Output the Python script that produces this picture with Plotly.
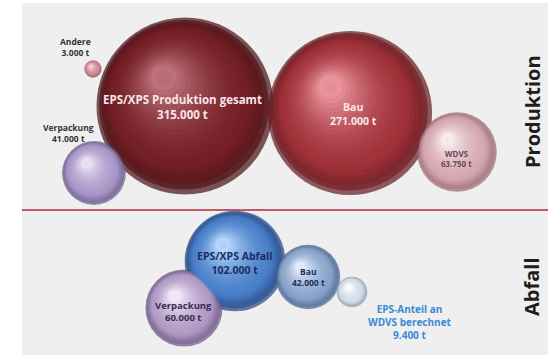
import math
import plotly.graph_objects as go

# ---- data ----
prod_labels = ["EPS/XPS Produktion gesamt", "Bau", "WDVS", "Verpackung", "Andere"]
prod_values = [315000, 271000, 63750, 41000, 3000]
prod_x = [185, 350, 457, 94, 93]
prod_y = [106, 113, 152, 173, 69]
prod_dark = ["#36080c", "#4e0e12", "#845660", "#564878", "#84444f"]
prod_mid = ["#741f25", "#a03139", "#d6a9b2", "#aa99c8", "#cf8a95"]
prod_light = ["#c27681", "#ee9aa2", "#fbf0f2", "#efe6f8", "#f8d8de"]

waste_labels = ["EPS/XPS Abfall", "Bau", "Verpackung", "EPS-Anteil an WDVS berechnet"]
waste_values = [102000, 42000, 60000, 9400]
waste_x = [235, 308, 184, 352]
waste_y = [261, 277, 308, 292]
waste_dark = ["#142e66", "#3a507c", "#544070", "#76869e"]
waste_mid = ["#4a80ca", "#8aa5ca", "#b29bc5", "#d2dce8"]
waste_light = ["#bcdcfc", "#e8f0fc", "#f6eefc", "#ffffff"]

MAX_D = 177.0
sizeref = 2.0 * max(prod_values) / MAX_D ** 2
STEPS = 22


def hex2rgb(h):
    h = h.lstrip("#")
    return [int(h[i:i + 2], 16) for i in (0, 2, 4)]


def mix(c1, c2, t):
    a, b = hex2rgb(c1), hex2rgb(c2)
    return "rgb({},{},{})".format(*[round(a[i] + (b[i] - a[i]) * t) for i in range(3)])


def ramp(dark, mid, light, t):
    # t = 0 at the rim, 1 at the highlight
    if t < 0.25:
        return mix(dark, mid, (t / 0.25) ** 0.8)
    return mix(mid, light, ((t - 0.25) / 0.75) ** 1.7)


fig = go.Figure()


def add_spheres(values, xs, ys, dark, mid, light):
    vmax = max(prod_values)
    radii = [MAX_D / 2 * math.sqrt(v / vmax) for v in values]
    for k in range(STEPS):
        t = k / STEPS
        t2 = (k + 1) / STEPS
        f = 1 - 0.9 * t
        cx = [x - 0.25 * r * t for x, r in zip(xs, radii)]
        cy = [y - 0.33 * r * t for y, r in zip(ys, radii)]
        fig.add_trace(go.Scatter(
            x=cx, y=cy, mode="markers", hoverinfo="skip", showlegend=False,
            marker=dict(size=[v * f * f for v in values], sizemode="area", sizeref=sizeref,
                        color=[ramp(d, m, l, t2) for d, m, l in zip(dark, mid, light)],
                        line=dict(width=0),
                        gradient=dict(type="radial",
                                      color=[ramp(d, m, l, t) for d, m, l in zip(dark, mid, light)])),
        ))


add_spheres(prod_values, prod_x, prod_y, prod_dark, prod_mid, prod_light)
add_spheres(waste_values, waste_x, waste_y, waste_dark, waste_mid, waste_light)


def fmt(v):
    return f"{v:,}".replace(",", ".") + " t"


FONT = "Open Sans"
# label placements: (x, y, text, color, size)
ann = [
    (182, 107, f"{prod_labels[0]}<br>{fmt(prod_values[0])}", "#f6e6e8", 11.5),
    (353, 114, f"{prod_labels[1]}<br>{fmt(prod_values[1])}", "#f8e8e8", 10.5),
    (456, 158, f"{prod_labels[2]}<br>{fmt(prod_values[2])}", "#6a4a56", 8),
    (68, 133, f"{prod_labels[3]}<br>{fmt(prod_values[3])}", "#333333", 8.5),
    (75, 47, f"{prod_labels[4]}<br>{fmt(prod_values[4])}", "#333333", 8.5),
    (234, 263, f"{waste_labels[0]}<br>{fmt(waste_values[0])}", "#1a2c66", 10.5),
    (308, 277, f"{waste_labels[1]}<br>{fmt(waste_values[1])}", "#1a2c66", 8.5),
    (183, 311, f"{waste_labels[2]}<br>{fmt(waste_values[2])}", "#3a2a52", 9.5),
    (410, 322, "EPS-Anteil an<br>WDVS berechnet<br>" + fmt(waste_values[3]), "#3a8ad4", 10),
]
annotations = [
    dict(x=x, y=y, text=f"<b>{t}</b>", showarrow=False, xref="x", yref="y",
         font=dict(family=FONT, size=s, color=c), align="center")
    for x, y, t, c, s in ann
]
annotations += [
    dict(x=532, y=112, text="<b>Produktion</b>", textangle=-90, showarrow=False,
         font=dict(family=FONT, size=20, color="#1e1e1e")),
    dict(x=531, y=287, text="<b>Abfall</b>", textangle=-90, showarrow=False,
         font=dict(family=FONT, size=20, color="#1e1e1e")),
]

fig.update_layout(
    width=552, height=357, margin=dict(l=0, r=0, t=0, b=0),
    paper_bgcolor="white", plot_bgcolor="white",
    xaxis=dict(range=[0, 552], visible=False, fixedrange=True),
    yaxis=dict(range=[357, 0], visible=False, fixedrange=True),
    shapes=[
        dict(type="rect", xref="x", yref="y", x0=22, x1=548, y0=3, y1=355,
             fillcolor="#efefef", line=dict(width=0), layer="below"),
        dict(type="line", xref="x", yref="y", x0=22, x1=548, y0=210, y1=210,
             line=dict(color="#c05a6a", width=2), layer="below"),
    ],
    annotations=annotations,
)

fig.write_html("out.html")
